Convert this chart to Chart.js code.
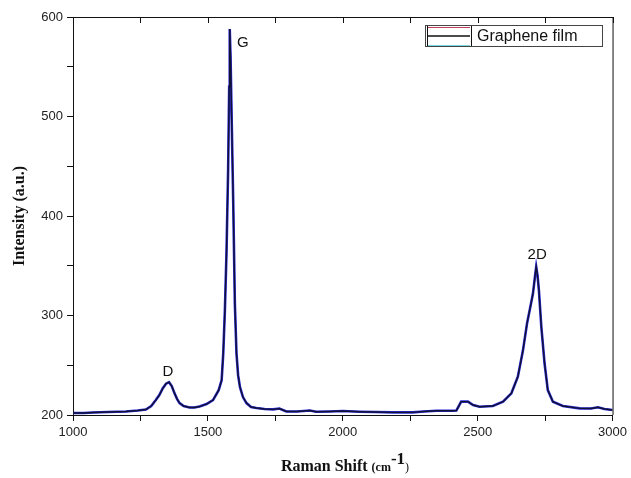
<!DOCTYPE html>
<html>
<head>
<meta charset="utf-8">
<script src="https://cdn.jsdelivr.net/npm/chart.js@4.4.1/dist/chart.umd.min.js"></script>
<style>
  html, body { margin: 0; padding: 0; background: #fff; }
  #wrap { width: 631px; height: 478px; position: relative; }
</style>
</head>
<body>
<div id="wrap"><canvas id="ramanCanvas"></canvas></div>
<script>
// Raman spectrum
const shifts = [1000, 1040, 1074, 1130, 1196, 1240, 1270, 1290, 1307, 1320, 1333, 1345, 1356, 1366, 1376, 1386, 1395, 1410, 1432, 1450, 1469, 1495, 1519, 1540, 1551, 1557, 1563, 1569, 1575, 1579, 1581, 1584, 1588, 1594, 1600, 1606, 1612, 1619, 1630, 1643, 1660, 1680, 1710, 1742, 1765, 1791, 1830, 1878, 1901, 1950, 2000, 2063, 2120, 2186, 2259, 2300, 2347, 2408, 2421, 2430, 2439, 2464, 2483, 2507, 2556, 2594, 2625, 2649, 2668, 2683, 2693, 2705, 2712, 2717, 2722, 2727, 2736, 2748, 2760, 2779, 2816, 2878, 2920, 2946, 2970, 3000];
const intensity = [202, 202, 202.5, 203, 203.5, 204.5, 205.5, 209, 215, 220, 227, 231.5, 233, 229, 222, 216, 212, 209, 207.5, 207.5, 208.5, 211, 215, 225, 235, 262, 305, 363, 446, 530, 588, 560, 500, 413, 312, 262, 240, 228, 218, 212, 208, 207, 206, 205.7, 206.5, 203.5, 203.5, 204.5, 203.3, 203.5, 204, 203.3, 203, 202.6, 202.6, 203.5, 204.3, 204.3, 204.5, 209, 213.4, 213.4, 210, 208.3, 209, 213.4, 221.8, 238.5, 265, 292, 305.5, 322, 338, 349, 340, 325.6, 288.7, 252, 225, 213.4, 209, 206.7, 206.5, 207.7, 206, 205];

const seriesName = "Graphene film";
const peakNames = ["D", "G", "2D"];
const peakShifts = [1356, 1581, 2717];
const peakHeights = [233, 588, 349];

const xTicks = [1000, 1500, 2000, 2500, 3000];
const yTicks = [200, 300, 400, 500, 600];

const points = shifts.map((s, i) => ({ x: s, y: intensity[i] }));

// frame, top inner ticks, peak names, legend and x title
const decorPlugin = {
  id: "decor",
  afterDraw(chart) {
    const ctx = chart.ctx;
    const area = chart.chartArea;
    const xs = chart.scales.x;
    ctx.save();
    ctx.strokeStyle = "#111";
    ctx.lineWidth = 1;
    ctx.beginPath();
    ctx.moveTo(area.left, area.top + 0.5);
    ctx.lineTo(area.right + 0.5, area.top + 0.5);
    ctx.lineTo(area.right + 0.5, area.bottom);
    ctx.stroke();
    for (let v = 1000; v <= 3000; v += 250) {
      const px = Math.round(xs.getPixelForValue(v)) + 0.5;
      ctx.beginPath();
      ctx.moveTo(px, area.top);
      ctx.lineTo(px, area.top + 6);
      ctx.stroke();
    }

    // peak names
    ctx.fillStyle = "#111";
    ctx.font = "15px Arial, 'Liberation Sans', sans-serif";
    ctx.textAlign = "center";
    ctx.textBaseline = "alphabetic";
    const ys = chart.scales.y;
    const offs = [[-1, -6], [13, 18], [1, -8]];
    peakNames.forEach((n, i) => {
      const px = xs.getPixelForValue(peakShifts[i]) + offs[i][0];
      const py = ys.getPixelForValue(peakHeights[i]) + offs[i][1];
      ctx.fillText(n, px, py);
    });

    // legend box
    ctx.strokeStyle = "#444";
    ctx.lineWidth = 1;
    ctx.strokeRect(425.5, 25.5, 177, 21);
    ctx.strokeStyle = "#c0405a";
    ctx.beginPath(); ctx.moveTo(427, 27.5); ctx.lineTo(470, 27.5); ctx.stroke();
    ctx.strokeStyle = "#7ad8e0";
    ctx.beginPath(); ctx.moveTo(427, 45.5); ctx.lineTo(470, 45.5); ctx.stroke();
    ctx.strokeStyle = "#111";
    ctx.lineWidth = 1.5;
    ctx.beginPath(); ctx.moveTo(427, 36); ctx.lineTo(470, 36); ctx.stroke();
    ctx.lineWidth = 1;
    ctx.beginPath(); ctx.moveTo(471.5, 26); ctx.lineTo(471.5, 46); ctx.stroke();
    ctx.beginPath(); ctx.moveTo(427.5, 26); ctx.lineTo(427.5, 46); ctx.stroke();
    ctx.textAlign = "left";
    ctx.textBaseline = "middle";
    ctx.font = "16px Arial, 'Liberation Sans', sans-serif";
    ctx.fillText(seriesName, 477, 37);

    // x title with superscript
    ctx.textBaseline = "alphabetic";
    const parts = [
      { t: "Raman Shift ", f: "bold 16px 'Liberation Serif', 'Times New Roman', serif", dy: 0 },
      { t: "(cm", f: "bold 12px 'Liberation Serif', 'Times New Roman', serif", dy: 0 },
      { t: "-1", f: "bold 17px 'Liberation Serif', 'Times New Roman', serif", dy: -7 },
      { t: ")", f: "12px 'Liberation Serif', 'Times New Roman', serif", dy: 0 }
    ];
    let total = 0;
    parts.forEach(p => { ctx.font = p.f; p.w = ctx.measureText(p.t).width; total += p.w; });
    let cx = 345 - total / 2;
    parts.forEach(p => {
      ctx.font = p.f;
      ctx.fillText(p.t, cx, 471 + p.dy);
      cx += p.w;
    });
    ctx.restore();
  }
};

new Chart(document.getElementById("ramanCanvas"), {
  type: "scatter",
  data: {
    datasets: [
      {
        label: seriesName,
        data: points,
        showLine: true,
        borderColor: "#111133",
        borderWidth: 1.4,
        pointRadius: 0,
        tension: 0,
        order: 1
      },
      {
        label: seriesName + " (blue)",
        data: points,
        showLine: true,
        borderColor: "#2a2ad6",
        borderWidth: 2.6,
        pointRadius: 0,
        tension: 0,
        order: 2
      }
    ]
  },
  options: {
    responsive: true,
    maintainAspectRatio: false,
    animation: false,
    layout: { padding: { top: 17, right: 18, left: 0, bottom: 0 } },
    plugins: {
      legend: { display: false },
      tooltip: { enabled: false }
    },
    scales: {
      x: {
        type: "linear",
        min: 1000,
        max: 3000,
        afterFit: (s) => { s.height = 63; },
        border: { color: "#111", width: 1 },
        grid: { drawOnChartArea: false, color: "#111", tickLength: 6 },
        ticks: {
          stepSize: 250,
          autoSkip: false,
          maxRotation: 0,
          padding: 4,
          color: "#222",
          font: { family: "Arial, 'Liberation Sans', sans-serif", size: 13 },
          callback: (v) => (xTicks.includes(v) ? String(v) : "")
        }
      },
      y: {
        min: 200,
        max: 600,
        afterFit: (s) => { s.width = 73; },
        border: { color: "#111", width: 1 },
        grid: { drawOnChartArea: false, color: "#111", tickLength: 6 },
        ticks: {
          stepSize: 50,
          autoSkip: false,
          padding: 4,
          color: "#222",
          font: { family: "Arial, 'Liberation Sans', sans-serif", size: 13 },
          callback: (v) => (yTicks.includes(v) ? String(v) : "")
        },
        title: {
          display: true,
          text: "Intensity (a.u.)",
          color: "#111",
          padding: { top: 10, bottom: 4 },
          font: { family: "'Liberation Serif', 'Times New Roman', serif", size: 16, weight: "bold" }
        }
      }
    }
  },
  plugins: [decorPlugin]
});
</script>
</body>
</html>
